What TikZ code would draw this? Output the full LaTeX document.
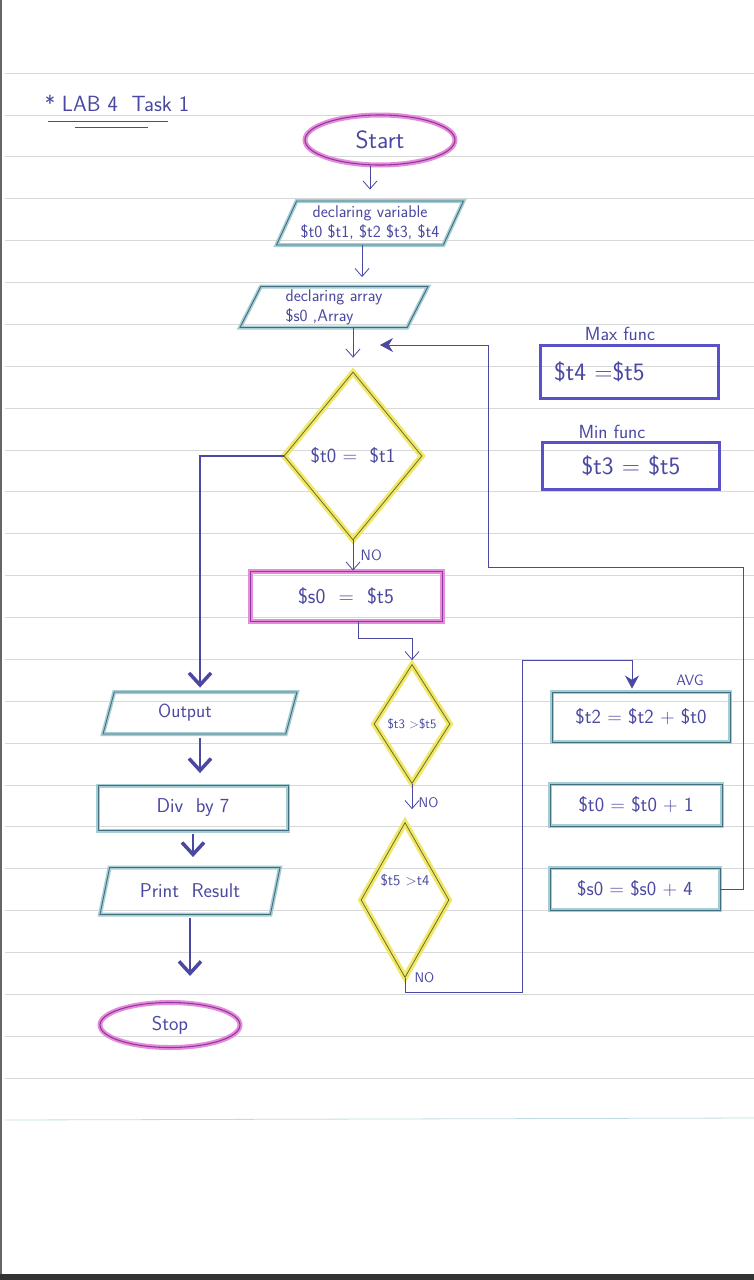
\documentclass[tikz,border=0pt]{standalone}
\usepackage{tikz}
\usepackage{xcolor}
\usetikzlibrary{shapes.geometric,arrows.meta,calc,positioning}
\definecolor{ink1}{HTML}{4A48A0}
\definecolor{mag1}{HTML}{E68ADC}
\definecolor{mag2}{HTML}{8E3A9A}
\definecolor{teal1}{HTML}{A6CDD3}
\definecolor{teal2}{HTML}{3F6E80}
\definecolor{yel1}{HTML}{F0E868}
\definecolor{yel2}{HTML}{6E6A30}
\definecolor{purp1}{HTML}{5A50C8}
\definecolor{rule1}{HTML}{D6D8D9}

\tikzset{
  every node/.style={text=ink1},
  hand/.style={font=\sffamily\fontsize{#1}{#1}\selectfont},
  terminal/.style={ellipse, draw=mag2, line width=1.1pt, preaction={draw=mag1, line width=5pt}},
  io/.style={trapezium, trapezium left angle=62, trapezium right angle=118, trapezium stretches body=true,
    draw=teal2, line width=.9pt, preaction={draw=teal1, line width=4pt}, inner sep=2pt},
  proc/.style={rectangle, draw=teal2, line width=.9pt, preaction={draw=teal1, line width=4pt}},
  procm/.style={rectangle, draw=mag2, line width=1pt, preaction={draw=mag1, line width=5pt}},
  decision/.style={diamond, draw=yel2, line width=.8pt, preaction={draw=yel1, line width=6pt}, inner sep=0pt},
  func/.style={rectangle, draw=purp1, line width=3pt, inner sep=4pt},
  rule/.style={draw=rule1, line width=.6pt},
  arr/.style={draw=ink1, line width=.8pt, -{Straight Barb[length=8pt,width=14pt]}},
  barr/.style={draw=ink1, line width=1.2pt, -{Straight Barb[length=12pt,width=22pt,line width=3.5pt]}},
  barrow/.style={draw=ink1, line width=.8pt, -{Stealth[length=13pt,width=14pt]}}
}

\begin{document}
\begin{tikzpicture}[x=1pt,y=-1pt]

\useasboundingbox (0,0) rectangle (754,1280);
\fill[white] (0,0) rectangle (754,1280);

% paper
\foreach \k in {0,...,24}
  \draw[rule] (5,73+41.87*\k) -- (754,73+41.87*\k);
\draw[draw=teal1!70, line width=.8pt] (5,1120) -- (754,1118);
\fill[black!60] (0,0) rectangle (2,1280);
\fill[black!80] (0,1274) rectangle (754,1280);

% title
\node[hand=22] (title) at (117,103) {* LAB 4 \ Task 1};
\draw[ink1, line width=.7pt] (48,121) -- (168,121);
\draw[ink1, line width=.7pt] (75,127) -- (148,127);

% main column
\node[terminal, hand=25, minimum width=150pt, minimum height=50pt] (start) at (380,140) {Start};
\node[io, hand=17, align=center, minimum width=187pt, minimum height=44pt] (decl1) at (370,223)
  {declaring variable\\[3pt]\$t0 \$t1, \$t2 \$t3, \$t4};
\node[io, hand=17, align=left, minimum width=188pt, minimum height=41pt] (decl2) at (334,307)
  {declaring array\\[3pt]\$s0 ,Array};
\node[decision, minimum width=138pt, minimum height=168pt,
  label={[hand=20]center:\$t0 =\ \ \$t1}] (d1) at (353,456) {};
\node[procm, hand=21, minimum width=192pt, minimum height=50pt] (s0t5) at (346,596) {\$s0 \ = \ \$t5};
\node[decision, minimum width=76pt, minimum height=119pt,
  label={[hand=13]center:\$t3 >\$t5}] (d2) at (412,724) {};
\node[decision, minimum width=88pt, minimum height=155pt,
  label={[hand=15,yshift=20pt]center:\$t5 >t4}] (d3) at (405,900) {};

% left column
\node[io, hand=19, minimum width=194pt, minimum height=42pt] (out) at (200,713) {Output\hspace*{30pt}};
\node[proc, hand=20, minimum width=190pt, minimum height=45pt] (div) at (193,808) {Div \ by 7};
\node[io, hand=20, minimum width=180pt, minimum height=47pt] (prt) at (190,891) {Print \ Result};
\node[terminal, hand=20, minimum width=140pt, minimum height=45pt] (stop) at (170,1025) {Stop};

% functions
\node[hand=19] (maxf) at (620,334) {Max func};
\node[func, hand=25, minimum width=178pt, minimum height=53pt, text width=150pt, align=left] (maxb) at (629,372) {\$t4 =\$t5};
\node[hand=19] (minf) at (612,432) {Min func};
\node[func, hand=25, minimum width=177pt, minimum height=47pt, text width=150pt, align=center] (minb) at (631,466) {\$t3 = \$t5};

% avg
\node[hand=15] (avg) at (690,680) {AVG};
\node[proc, hand=20, minimum width=178pt, minimum height=50pt] (avg1) at (641,717) {\$t2 = \$t2 + \$t0};
\node[proc, hand=20, minimum width=172pt, minimum height=42pt] (avg2) at (636,805) {\$t0 = \$t0 + 1};
\node[proc, hand=20, minimum width=170pt, minimum height=42pt] (avg3) at (635,889) {\$s0 = \$s0 + 4};

\coordinate (join) at (380,345);
\coordinate (lp1) at (488,567);
\coordinate (lp2) at (743,567);
\coordinate (lp3) at (522,992);
\coordinate (lp4) at (522,660);

% connectors
\draw[arr, shorten >=11pt] (start.south -| decl1.north) -- (decl1.north);
\draw[arr, shorten >=9pt] ([xshift=-8pt]decl1.south) -- ([xshift=-8pt]decl1.south |- decl2.north);
\draw[arr, shorten >=14pt] (decl2.south -| d1.north) -- (d1.north);
\draw[barrow] (avg3.east) -| (lp2) -- (lp1) |- (join);

\draw[arr] (d1.south) -- (d1.south |- s0t5.north) node[midway, right=4pt, hand=15] (no1) {NO};
\draw[arr, shorten >=4pt] ([xshift=12pt]s0t5.south) -- ++(0,17) -| (d2.north);
\draw[arr, shorten >=13pt] (d2.south) -- (d2.south |- d3.north) node[midway, right=3pt, hand=14] (no2) {NO};
\node[hand=14, right=6pt of d3.south] (no3) {NO};
\draw[barrow, shorten >=3pt] (d3.south) |- (lp3) -- (lp4) -| ([xshift=-9pt]avg1.north);

\draw[barr, shorten >=4pt] (d1.west) -| (out.north);
\draw[barr, shorten <=4pt, shorten >=12pt] (out.south) -- (out.south |- div.north);
\draw[barr, shorten <=3pt, shorten >=10pt] (div.south) -- (div.south |- prt.north);
\draw[barr, shorten <=3pt, shorten >=26pt] (prt.south) -- (prt.south |- stop.north);

\end{tikzpicture}
\end{document}
